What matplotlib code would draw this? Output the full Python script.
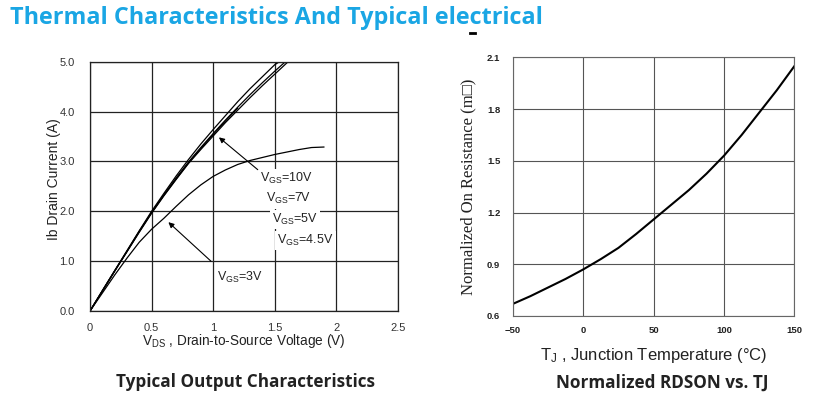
import matplotlib
matplotlib.use("Agg")
import matplotlib.pyplot as plt
from matplotlib.lines import Line2D

plt.rcParams['font.family'] = ['Liberation Sans', 'DejaVu Sans']
plt.rcParams['mathtext.fontset'] = 'custom'
plt.rcParams['mathtext.rm'] = 'Liberation Sans'
plt.rcParams['mathtext.it'] = 'Liberation Sans'

# output characteristics
vds = [0, 0.1, 0.2, 0.3, 0.4, 0.5, 0.6, 0.7, 0.8, 0.9, 1.0, 1.1, 1.2, 1.3, 1.4, 1.5, 1.6]
id_10v = [0, 0.41, 0.81, 1.21, 1.61, 2.0, 2.36, 2.71, 3.04, 3.35, 3.64, 3.92, 4.2, 4.46, 4.7, 4.94, 5.1]
id_7v = [0, 0.4, 0.8, 1.2, 1.6, 1.98, 2.33, 2.67, 2.99, 3.28, 3.56, 3.83, 4.09, 4.34, 4.58, 4.81, 5.03]
id_5v = [0, 0.4, 0.8, 1.19, 1.58, 1.96, 2.31, 2.64, 2.96, 3.24, 3.51, 3.78, 4.03, 4.28, 4.52, 4.75, 4.98]
vds_45 = [0, 0.1, 0.2, 0.3, 0.4, 0.5, 0.6, 0.7, 0.8, 0.9, 1.0, 1.1, 1.2]
id_45v = [0, 0.4, 0.8, 1.19, 1.59, 1.97, 2.32, 2.65, 2.97, 3.26, 3.54, 3.81, 4.07]
vds_3 = [0, 0.1, 0.2, 0.3, 0.4, 0.5, 0.6, 0.7, 0.8, 0.9, 1.0, 1.1, 1.2, 1.3, 1.4, 1.5, 1.6, 1.7, 1.8, 1.9]
id_3v = [0, 0.36, 0.72, 1.06, 1.38, 1.64, 1.86, 2.1, 2.33, 2.53, 2.7, 2.83, 2.94, 3.02, 3.08, 3.14, 3.19, 3.24, 3.28, 3.29]

# normalized RDSON vs TJ
tj = [-50, -37.5, -25, -12.5, 0, 12.5, 25, 37.5, 50, 62.5, 75, 87.5, 100, 112.5, 125, 137.5, 150]
rdson = [0.67, 0.715, 0.765, 0.815, 0.87, 0.93, 0.995, 1.075, 1.16, 1.245, 1.33, 1.425, 1.53, 1.65, 1.78, 1.91, 2.05]

fig = plt.figure(figsize=(8.14, 3.93), dpi=100)

fig.text(0.012, 0.955, "Thermal Characteristics And Typical electrical",
         family=['Open Sans', 'DejaVu Sans'], fontsize=16.8, weight='bold',
         color='#1aa6e4', va='center', ha='left')
# small stray dash under the title
fig.add_artist(Line2D([0.578, 0.584], [0.916, 0.916], color='black', lw=2))

# left chart
ax1 = fig.add_axes([0.1106, 0.2087, 0.378, 0.634])
for x, y in [(vds, id_10v), (vds, id_7v), (vds, id_5v), (vds_45, id_45v), (vds_3, id_3v)]:
    ax1.plot(x, y, color='black', lw=0.9)
ax1.set_xlim(0, 2.5)
ax1.set_ylim(0, 5)
ax1.set_xticks([0, 0.5, 1, 1.5, 2, 2.5])
ax1.set_xticklabels(["0", "0.5", "1", "1.5", "2", "2.5"])
ax1.set_yticks([0, 1, 2, 3, 4, 5])
ax1.set_yticklabels(["0.0", "1.0", "2.0", "3.0", "4.0", "5.0"])
ax1.tick_params(axis='x', length=0, labelsize=8, colors='#333333', pad=9)
ax1.tick_params(axis='y', length=0, labelsize=8, colors='#333333', pad=11)
ax1.grid(True, color='#222222', lw=0.9)
for s in ax1.spines.values():
    s.set_color('#222222')
    s.set_linewidth(0.9)
ax1.set_xlabel("V$_{\\mathrm{DS}}$ , Drain-to-Source Voltage (V)", fontsize=9.8, labelpad=-1, color='#222222')
ax1.set_ylabel("Ib Drain Current (A)", fontsize=10, color='#222222')
ax1.yaxis.set_label_coords(-0.095, 0.53)

box = dict(facecolor='white', edgecolor='none', pad=1.5)
labels = [("V$_{\\mathrm{GS}}$=10V", 1.38, 2.65), ("V$_{\\mathrm{GS}}$=7V", 1.43, 2.25),
          ("V$_{\\mathrm{GS}}$=5V", 1.48, 1.84), ("V$_{\\mathrm{GS}}$=4.5V", 1.52, 1.42),
          ("V$_{\\mathrm{GS}}$=3V", 1.03, 0.67)]
for txt, x, y in labels:
    ax1.text(x, y, txt, fontsize=9, va='center', ha='left', bbox=box, color='#222222')
ax1.annotate("", xy=(1.03, 3.52), xytext=(1.38, 2.8),
             arrowprops=dict(arrowstyle='-|>', color='black', lw=0.8, mutation_scale=8))
ax1.annotate("", xy=(0.62, 1.82), xytext=(1.0, 0.96),
             arrowprops=dict(arrowstyle='-|>', color='black', lw=0.8, mutation_scale=8))

# right chart
ax2 = fig.add_axes([0.630, 0.196, 0.346, 0.658])
ax2.plot(tj, rdson, color='black', lw=1.5)
ax2.set_xlim(-50, 150)
ax2.set_ylim(0.6, 2.1)
ax2.set_xticks([-50, 0, 50, 100, 150])
ax2.set_yticks([0.6, 0.9, 1.2, 1.5, 1.8, 2.1])
ax2.set_yticklabels(["0.6", "0.9", "1.2", "1.5", "1.8", "2.1"])
ax2.tick_params(axis='x', length=0, labelsize=6.8, colors='#222222', pad=7)
ax2.tick_params(axis='y', length=0, labelsize=6.8, colors='#222222', pad=9)
for lab in ax2.get_xticklabels() + ax2.get_yticklabels():
    lab.set_fontweight('bold')
ax2.grid(True, color='#555555', lw=0.8)
for s in ax2.spines.values():
    s.set_color('#666666')
    s.set_linewidth(0.8)
ax2.set_ylabel("Normalized On Resistance (m\u25a1)", family=['Liberation Serif', 'DejaVu Serif'],
               fontsize=12, color='#222222')
ax2.yaxis.set_label_coords(-0.13, 0.5)
ax2.set_xlabel("T$_{\\mathrm{J}}$ , Junction Temperature (\u00b0C)", fontsize=12, color='#222222')
ax2.xaxis.set_label_coords(0.5, -0.118)

fig.text(0.301, 0.027, "Typical Output Characteristics", family=['Open Sans', 'DejaVu Sans'],
         fontsize=12.3, weight='bold', ha='center', va='center', color='#222222')
fig.text(0.813, 0.027, "Normalized RDSON vs. TJ", family=['Open Sans', 'DejaVu Sans'],
         fontsize=12.3, weight='bold', ha='center', va='center', color='#222222')

fig.savefig("out.png", dpi=100)
